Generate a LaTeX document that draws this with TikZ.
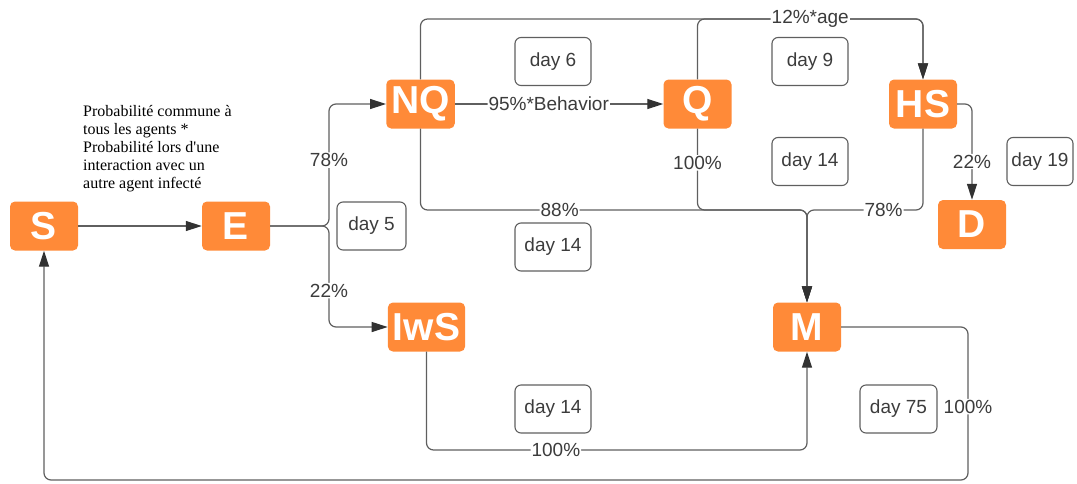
\documentclass[tikz,border=0pt]{standalone}
\usepackage{fontspec}
\setmainfont{Liberation Sans}
\newfontfamily\notefont{Liberation Serif}
\usetikzlibrary{positioning, arrows.meta}
\definecolor{boxorange}{RGB}{255,138,56}
\definecolor{linegray}{RGB}{95,95,95}
\definecolor{textgray}{RGB}{60,60,60}
\definecolor{tipgray}{RGB}{50,50,50}

\begin{document}
\begin{tikzpicture}[x=1pt, y=-1pt, on grid,
    st/.style={fill=boxorange, text=white, rounded corners=5pt, minimum width=68pt, minimum height=49pt, inner xsep=5pt, font=\fontsize{39}{39}\selectfont\bfseries},
    daybox/.style={draw=linegray, line width=1.1pt, rounded corners=6pt, minimum width=76pt, minimum height=48pt, inner xsep=4pt, text=textgray, font=\fontsize{19}{19}\selectfont},
    lbl/.style={fill=white, inner sep=1pt, text=textgray, font=\fontsize{19}{19}\selectfont},
    note/.style={align=left, inner sep=0pt, font=\notefont\fontsize{16}{18}\selectfont},
    link/.style={draw=linegray, line width=1.2pt, rounded corners=7pt, -{Triangle[length=16pt, width=10pt, color=tipgray]}}]
   \useasboundingbox (0,0) rectangle (1077,483);

   % States
   \node[st] (S) at (44,226) {S};
   \node[st] (E) [right=192pt of S] {E};
   \node[st] (NQ) at (420.5,104) {NQ};
   \node[st] (Q) [right=277pt of NQ] {Q};
   \node[st] (HS) [right=225.5pt of Q] {HS};
   \node[st] (D) at (972,224.5) {D};
   \node[st] (IwS) at (426.5,327) {IwS};
   \node[st] (M) at (807,327) {M};

   % Durations
   \node[daybox, minimum width=69pt] (d5) at (371.5,226) {day 5};
   \node[daybox] (d6) at (553,61.5) {day 6};
   \node[daybox] (d9) at (810,61.5) {day 9};
   \node[daybox] (d14q) at (810,161.5) {day 14};
   \node[daybox, minimum width=66pt] (d19) at (1040,161.5) {day 19};
   \node[daybox] (d14nq) at (553,247) {day 14};
   \node[daybox] (d14i) at (553,409) {day 14};
   \node[daybox, minimum width=77pt] (d75) at (898.5,409) {day 75};

   \node[note, anchor=north west] (prob) at (83,105) {Probabilité commune à\\tous les agents *\\Probabilité lors d{\textquotesingle}une\\interaction avec un\\autre agent infecté};

   % Helper points
   \coordinate (fork) at (329,226);
   \coordinate (ytop) at (0,19);
   \coordinate (mj) at (807,210);
   \coordinate (ybot) at (0,450);
   \coordinate (ret) at (968,480);

   % Transitions
   \draw[link] (S) -- (E);
   \draw[link] (E) -- (fork) |- node[lbl, pos=0.27] {78\%} (NQ);
   \draw[link] (E) -- (fork) |- node[lbl, pos=0.32] {22\%} (IwS);
   \draw[link] (NQ) -- node[lbl, pos=0.45] {95\%*Behavior} (Q);
   \draw[link] (NQ) -- (NQ |- ytop) -| (HS);
   \draw[link] (Q) -- (Q |- ytop) -| node[lbl, pos=0.25] {12\%*age} (HS);
   \draw[link] (NQ) |- node[lbl, pos=0.68] {88\%} (mj) -- (M);
   \draw[link] (Q) |- node[lbl, pos=0.21] {100\%} (mj) -- (M);
   \draw[link] (HS) |- node[lbl, pos=0.67] {78\%} (mj) -- (M);
   \draw[link] (HS) -| node[lbl, pos=0.8] {22\%} (D);
   \draw[link] (IwS) -- (IwS |- ybot) -| node[lbl, pos=0.17] {100\%} (M);
   \draw[link] (M) -| node[lbl, pos=0.76] {100\%} (ret) -| (S);
\end{tikzpicture}
\end{document}
